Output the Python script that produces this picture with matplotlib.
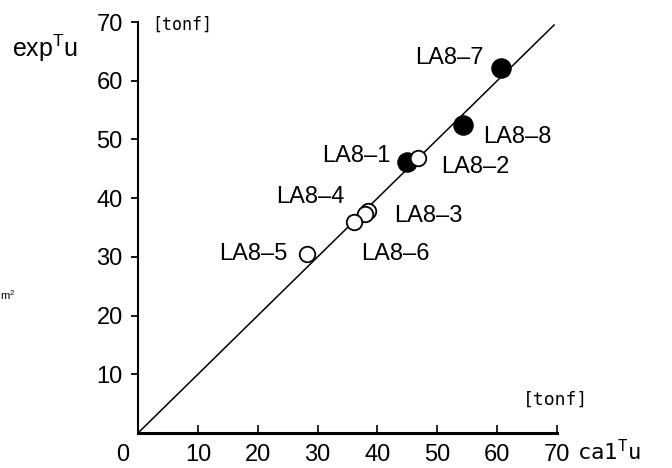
import matplotlib.pyplot as plt

# calculated vs. experimental ultimate strength [tonf]
names = ['LA8–1', 'LA8–2', 'LA8–3', 'LA8–4', 'LA8–5', 'LA8–6', 'LA8–7', 'LA8–8']
cal_tu = [44.9, 46.8, 38.4, 37.9, 28.2, 36.1, 60.6, 54.3]
exp_tu = [46.2, 46.8, 37.8, 37.3, 30.5, 35.9, 62.2, 52.5]
filled = [True, False, False, False, False, False, True, True]

# label offsets from the point, pixels
offsets = [(-50, 6), (57, -9), (60, -5), (-55, 17), (-54, 0), (41, -32), (-51, 10), (54, -12)]

ticks = [10, 20, 30, 40, 50, 60, 70]

plt.rcParams['font.family'] = ['Liberation Sans', 'DejaVu Sans']

fig = plt.figure(figsize=(6.72, 4.68), dpi=100)
ax = fig.add_axes([0.2054, 0.0748, 0.6235, 0.878])

# 45 degree line
ax.plot([0, 69.5], [0, 69.5], color='black', lw=1.1)

for x, y, f in zip(cal_tu, exp_tu, filled):
    if f:
        ax.scatter(x, y, s=190, color='black', zorder=3)
    else:
        ax.scatter(x, y, s=125, facecolor='white', edgecolor='black', lw=1.3, zorder=3)

for n, x, y, off in zip(names, cal_tu, exp_tu, offsets):
    ax.annotate(n, (x, y), xytext=off, textcoords='offset pixels',
                ha='center', va='center', fontsize=17)

ax.set_xlim(0, 70)
ax.set_ylim(0, 70)
ax.spines['top'].set_visible(False)
ax.spines['right'].set_visible(False)
ax.spines['left'].set_linewidth(1.5)
ax.spines['bottom'].set_linewidth(2.2)

ax.set_xticks(ticks)
ax.set_yticks(ticks)
ax.tick_params(axis='x', direction='in', length=6, width=1.2, labelsize=17, pad=8)
ax.tick_params(axis='y', direction='out', length=5, width=1.3, labelsize=17, pad=6)

# axis titles and units
fig.text(0.018, 0.897, 'exp$^{\\mathregular{T}}$u', fontsize=18, va='center')
fig.text(0.858, 0.034, 'ca1$^{\\mathregular{T}}$u', fontsize=16, va='center', family='DejaVu Sans Mono')
fig.text(0.226, 0.947, '[tonf]', fontsize=12, va='center', family='DejaVu Sans Mono')
fig.text(0.778, 0.145, '[tonf]', fontsize=13, va='center', family='DejaVu Sans Mono')
fig.text(0.183, 0.027, '0', fontsize=17, va='center', ha='center')
fig.text(0.0, 0.37, 'm$^{\\mathregular{2}}$', fontsize=8, va='center')

fig.savefig('out.png', dpi=100)
